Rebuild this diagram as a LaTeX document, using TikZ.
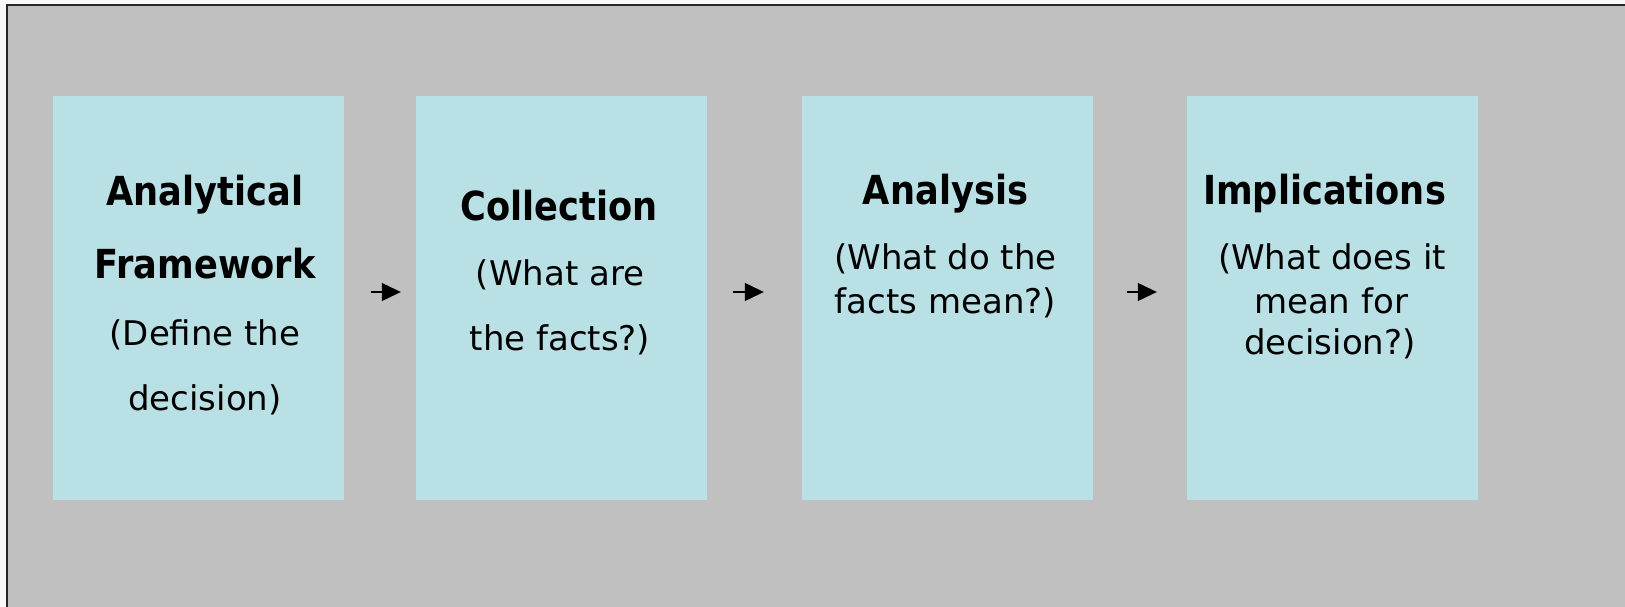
\documentclass[tikz,border=0pt]{standalone}
\usepackage{fontspec}
\setmainfont{DejaVu Sans}[FakeStretch=0.88]
\newfontfamily\subfont{DejaVu Sans}
\usetikzlibrary{arrows.meta}
\definecolor{pagebg}{HTML}{F8F8F8}
\definecolor{panelgray}{HTML}{C0C0C0}
\definecolor{boxblue}{HTML}{B9E0E4}
\tikzset{
  stagebox/.style={rectangle, fill=boxblue, inner sep=0pt, minimum width=291pt, minimum height=404pt},
  titletext/.style={anchor=base, inner sep=0pt, font=\fontsize{40}{48}\selectfont\bfseries},
  subtext/.style={anchor=base, inner sep=0pt, font=\subfont\fontsize{34}{40}\selectfont},
  flowarrow/.style={line width=1.2pt, -{Triangle[length=19pt,width=18pt]}}
}
\begin{document}
\begin{tikzpicture}[x=1pt,y=-1pt]
\useasboundingbox (0,0) rectangle (1625,607);
\fill[pagebg] (0,0) rectangle (1625,607);
\fill[panelgray] (7,5) rectangle (1625,607);
\draw[line width=1.5pt, black!85] (7,607) -- (7,5) -- (1625,5);

\node[stagebox] (b1) at (198.5,298) {};
\node[stagebox] (b2) at (561.5,298) {};
\node[stagebox] (b3) at (947.5,298) {};
\node[stagebox] (b4) at (1332.5,298) {};

\node[titletext] (t1a) at (205,205) {Analytical};
\node[titletext] (t1b) at (205,278) {Framework};
\node[subtext] (s1a) at (205,345) {(Define the};
\node[subtext] (s1b) at (205,410) {decision)};

\node[titletext] (t2) at (559,220) {Collection};
\node[subtext] (s2a) at (560,285) {(What are};
\node[subtext] (s2b) at (560,350) {the facts?)};

\node[titletext] (t3) at (945.5,204) {Analysis};
\node[subtext] (s3a) at (945.5,269) {(What do the};
\node[subtext] (s3b) at (945.5,313) {facts mean?)};

\node[titletext] (t4) at (1324.5,204) {Implications};
\node[subtext] (s4a) at (1332,269) {(What does it};
\node[subtext] (s4b) at (1331,313) {mean for};
\node[subtext] (s4c) at (1330,354) {decision?)};

\draw[flowarrow, shorten <=27pt, shorten >=15pt] ([yshift=6pt]b1.east) -- ([yshift=6pt]b2.west);
\draw[flowarrow, shorten <=26pt, shorten >=38pt] ([yshift=6pt]b2.east) -- ([yshift=6pt]b3.west);
\draw[flowarrow, shorten <=34pt, shorten >=30pt] ([yshift=6pt]b3.east) -- ([yshift=6pt]b4.west);
\end{tikzpicture}
\end{document}
